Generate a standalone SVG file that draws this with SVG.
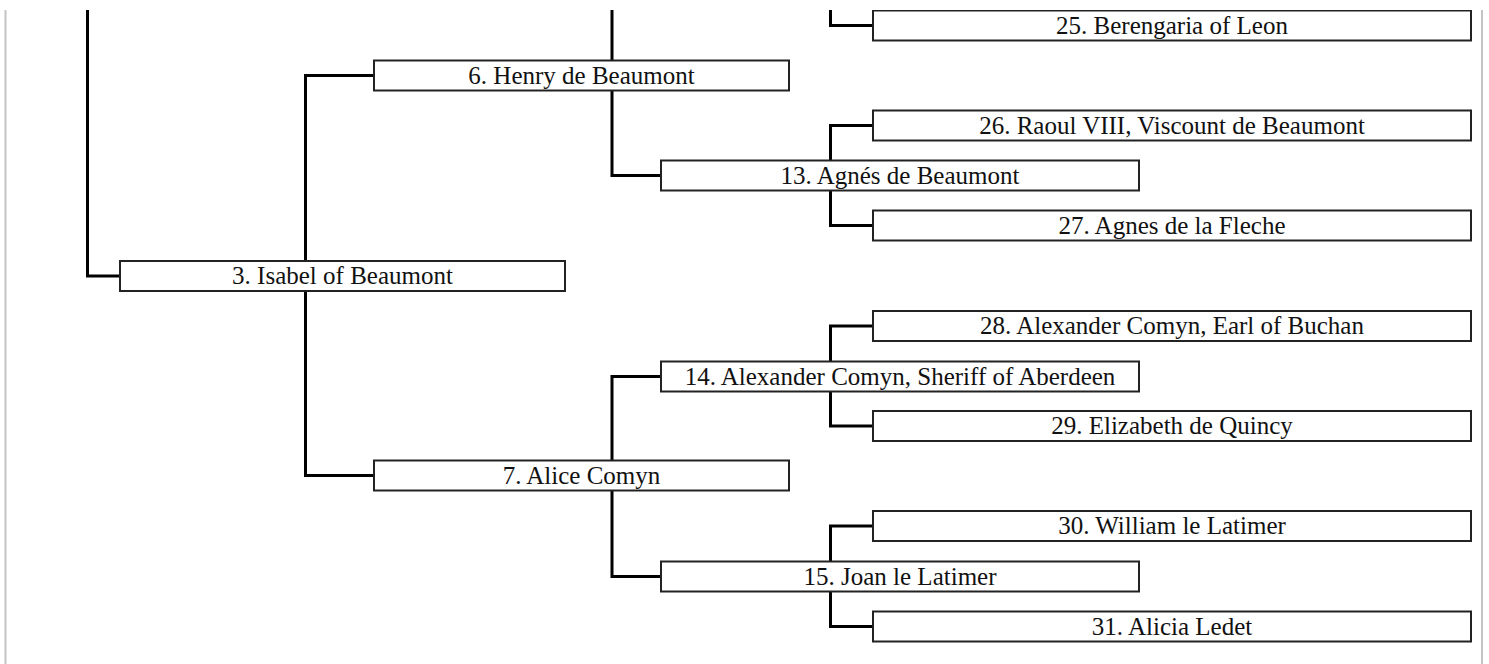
<svg xmlns="http://www.w3.org/2000/svg" width="1489" height="664" viewBox="0 0 1489 664">
<defs>
<style>
.box rect{fill:#fff;stroke:#222;stroke-width:2}
.box text{font-family:"Liberation Serif","Times New Roman",serif;font-size:25px;fill:#111;text-anchor:middle}
#connectors path{fill:none;stroke:#000;stroke-width:3}
.frame{stroke:#c4c4c4;stroke-width:2}
</style>
<clipPath id="clip"><rect x="0" y="10" width="1489" height="654"/></clipPath>
</defs>
<rect width="1489" height="664" fill="#fff"/>
<g clip-path="url(#clip)">
<line class="frame" x1="5.5" y1="0" x2="5.5" y2="664"/>
<line class="frame" x1="1482" y1="0" x2="1482" y2="664"/>
<g id="connectors">
<path d="M87.5 0 V276 H119"/>
<path d="M373 75.5 H305.5 V475.5 H373"/>
<path d="M612 0 V175.5 H660"/>
<path d="M660 376.5 H612 V576.5 H660"/>
<path d="M830.5 0 V25.5 H872"/>
<path d="M872 125.5 H830.5 V225.5 H872"/>
<path d="M872 326 H830.5 V426 H872"/>
<path d="M872 526 H830.5 V626.5 H872"/>
</g>
<g id="n3" class="box"><rect x="120" y="261" width="445" height="30"/><text x="342.5" y="284">3. Isabel of Beaumont</text></g>
<g id="n6" class="box"><rect x="374" y="60.5" width="415" height="30"/><text x="581.5" y="83.5">6. Henry de Beaumont</text></g>
<g id="n7" class="box"><rect x="374" y="460.5" width="415" height="30"/><text x="581.5" y="483.5">7. Alice Comyn</text></g>
<g id="n13" class="box"><rect x="661" y="160.5" width="478" height="30"/><text x="900" y="183.5">13. Agnés de Beaumont</text></g>
<g id="n14" class="box"><rect x="661" y="361.5" width="478" height="30"/><text x="900" y="384.5">14. Alexander Comyn, Sheriff of Aberdeen</text></g>
<g id="n15" class="box"><rect x="661" y="561.5" width="478" height="30"/><text x="900" y="584.5">15. Joan le Latimer</text></g>
<g id="n25" class="box"><rect x="873" y="10.5" width="598" height="30"/><text x="1172" y="33.5">25. Berengaria of Leon</text></g>
<g id="n26" class="box"><rect x="873" y="110.5" width="598" height="30"/><text x="1172" y="133.5">26. Raoul VIII, Viscount de Beaumont</text></g>
<g id="n27" class="box"><rect x="873" y="210.5" width="598" height="30"/><text x="1172" y="233.5">27. Agnes de la Fleche</text></g>
<g id="n28" class="box"><rect x="873" y="311" width="598" height="30"/><text x="1172" y="334">28. Alexander Comyn, Earl of Buchan</text></g>
<g id="n29" class="box"><rect x="873" y="411" width="598" height="30"/><text x="1172" y="434">29. Elizabeth de Quincy</text></g>
<g id="n30" class="box"><rect x="873" y="511" width="598" height="30"/><text x="1172" y="534">30. William le Latimer</text></g>
<g id="n31" class="box"><rect x="873" y="611.5" width="598" height="30"/><text x="1172" y="634.5">31. Alicia Ledet</text></g>
</g>
</svg>
